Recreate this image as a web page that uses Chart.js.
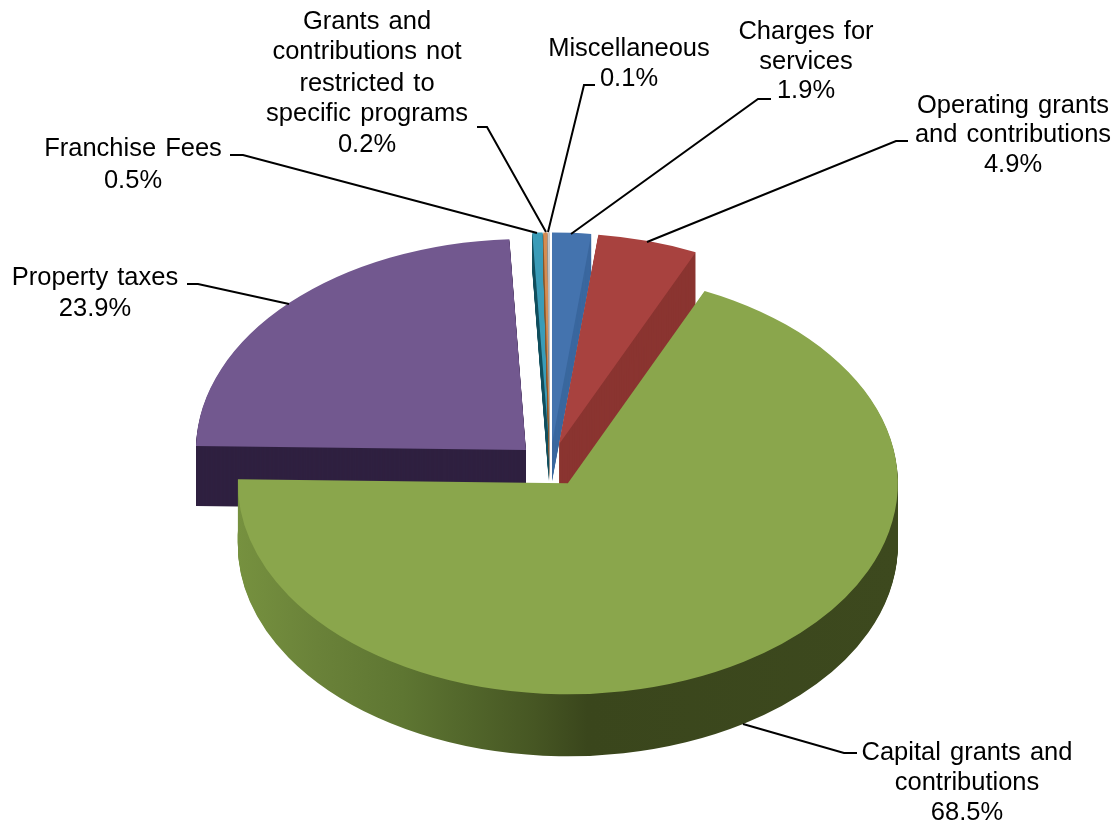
<!DOCTYPE html>
<html>
<head>
<meta charset="utf-8">
<title>Revenues by source</title>
<script src="https://cdn.jsdelivr.net/npm/chart.js@4"></script>
<style>
  html, body { margin: 0; padding: 0; background: #fff; }
  canvas { display: block; }
</style>
</head>
<body>
<canvas id="revenuePie" width="1118" height="825"></canvas>
<script>
// slices run clockwise from 12 o'clock
var categories = ["Charges for services", "Operating grants and contributions", "Capital grants and contributions",
    "Property taxes", "Franchise Fees", "Grants and contributions not restricted to specific programs", "Miscellaneous"];
var shares = [1.9, 4.9, 68.5, 23.9, 0.5, 0.2, 0.1];

var labelLines = [
    ["Charges for", "services"],
    ["Operating grants", "and contributions"],
    ["Capital grants and", "contributions"],
    ["Property taxes"],
    ["Franchise Fees"],
    ["Grants and", "contributions not", "restricted to", "specific programs"],
    ["Miscellaneous"]
];

var faceColors = ["#4473ae", "#a8423f", "#8aa64c", "#72588f", "#3a9cb8", "#d58c52", "#c9c9c9"];
var rimColors = ["#3b689f", "#8a3430", null, "#2f2040", "#14505f", "#8a5a30", "#999999"];
var rimDepths = [38, 60, 62, 60, 38, 38, 38];
// painted back to front, the big green slice goes last
var paintOrder = [4, 5, 6, 0, 1, 3, 2];

// label centre x, y of each text line, and the leader polyline
var labelX = [806, 1013, 967, 95, 133, 367, 629];
var labelY = [[32, 62, 91], [106, 135, 165], [753, 783, 813], [278, 309], [149, 181], [22, 52, 84, 114, 145], [49, 79]];
var leaders = [
    [[771, 99], [758, 99], [571, 234]],
    [[908, 141], [896, 141], [647, 242]],
    [[857, 753], [844, 753], [743, 724]],
    [[187, 284], [198, 284], [289, 304]],
    [[230, 155], [243, 155], [537, 233]],
    [[477, 127], [487, 127], [546, 232]],
    [[595, 85], [584, 85], [548, 232]]
];

var pieCenterX = 550;
var pieCenterY = 465;
var pieRadius = 330;
var squash = 0.64;
var explode = 33.5;

// tilts the pie, pulls slices apart and extrudes them, using the arcs the controller laid out
var tiltedPie = {
    id: 'tiltedPie',
    beforeDatasetDraw: function(chart, args) {
        var ctx = chart.ctx;
        var arcs = chart.getDatasetMeta(args.index).data;

        var rimGradient = ctx.createLinearGradient(arcs[0].x - pieRadius, 0, arcs[0].x + pieRadius, 0);
        rimGradient.addColorStop(0, '#76913f');
        rimGradient.addColorStop(0.12, '#6a8239');
        rimGradient.addColorStop(0.25, '#5e7632');
        rimGradient.addColorStop(0.33, '#54692c');
        rimGradient.addColorStop(0.45, '#465623');
        rimGradient.addColorStop(0.53, '#3a461c');
        rimGradient.addColorStop(1, '#3d491e');

        function paint(arc, drop, color) {
            var mid = (arc.startAngle + arc.endAngle) / 2;
            var saved = arc.options;
            ctx.save();
            ctx.translate(pieCenterX, pieCenterY + drop);
            ctx.scale(1, squash);
            ctx.translate(Math.cos(mid) * explode - arc.x, Math.sin(mid) * explode - arc.y);
            arc.options = Object.assign({}, saved, { backgroundColor: color });
            arc.draw(ctx);
            arc.options = saved;
            ctx.restore();
        }

        paintOrder.forEach(function(i) {
            var rim = rimColors[i] || rimGradient;
            for (var d = rimDepths[i]; d > 0; d--) {
                paint(arcs[i], d, rim);
            }
            paint(arcs[i], 0, faceColors[i]);
        });
        return false;
    },
    afterDraw: function(chart) {
        var ctx = chart.ctx;
        ctx.save();
        ctx.strokeStyle = '#000';
        ctx.lineWidth = 2;
        leaders.forEach(function(pts) {
            ctx.beginPath();
            pts.forEach(function(p, n) {
                if (n === 0) { ctx.moveTo(p[0], p[1]); } else { ctx.lineTo(p[0], p[1]); }
            });
            ctx.stroke();
        });

        ctx.fillStyle = '#000';
        ctx.font = '25.5px "Liberation Sans", Arial, sans-serif';
        ctx.textAlign = 'center';
        ctx.textBaseline = 'middle';
        ctx.wordSpacing = '2px';
        labelLines.forEach(function(lines, i) {
            var rows = lines.concat(shares[i].toFixed(1) + '%');
            rows.forEach(function(text, n) {
                ctx.fillText(text, labelX[i], labelY[i][n]);
            });
        });
        ctx.restore();
    }
};

var ctx = document.getElementById("revenuePie");
var revenuePie = new Chart(ctx, {
    type: 'pie',
    data: {
        labels: categories,
        datasets: [{
            data: shares,
            backgroundColor: faceColors,
            borderWidth: 0,
            radius: pieRadius
        }]
    },
    options: {
        responsive: false,
        animation: false,
        events: [],
        plugins: {
            legend: { display: false },
            title: { display: false },
            tooltip: { enabled: false }
        }
    },
    plugins: [tiltedPie]
});
</script>
</body>
</html>
